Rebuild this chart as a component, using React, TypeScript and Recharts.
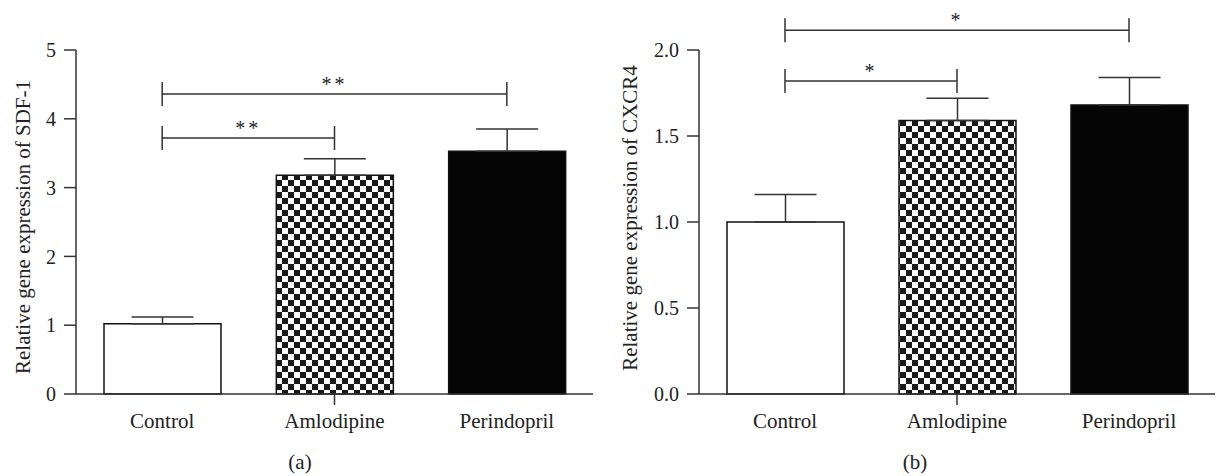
import React from 'react';
import { BarChart, Bar, XAxis, YAxis, Cell, ErrorBar, ReferenceLine } from 'recharts';

const groups = ['Control', 'Amlodipine', 'Perindopril'];

// (a) SDF-1
const sdfMean = [1.02, 3.18, 3.53];
const sdfSem = [0.1, 0.24, 0.32];
const sdfTicks = [0, 1, 2, 3, 4, 5];
const sdfSig = [
  { from: 'Control', to: 'Amlodipine', y: 3.72, mark: '**' },
  { from: 'Control', to: 'Perindopril', y: 4.36, mark: '**' },
];

// (b) CXCR4
const cxcrMean = [1.0, 1.59, 1.68];
const cxcrSem = [0.16, 0.13, 0.16];
const cxcrTicks = [0, 0.5, 1.0, 1.5, 2.0];
const cxcrSig = [
  { from: 'Control', to: 'Amlodipine', y: 1.82, mark: '*' },
  { from: 'Control', to: 'Perindopril', y: 2.115, mark: '*' },
];

const FILLS = ['#ffffff', 'url(#checker)', '#050505'];
const FONT = '"Liberation Serif", "DejaVu Serif", serif';
const INK = '#222';
const LINE = '#333';

const GroupTick = (p: any) => {
  const { x, y, payload, index } = p;
  return (
    <g>
      {index === 1 && <line x1={x} y1={y} x2={x} y2={y + 11} stroke={LINE} strokeWidth={1.5} />}
      <text x={x} y={y + 34} textAnchor="middle" fontSize={21} fontFamily={FONT} fill={INK}>
        {payload.value}
      </text>
    </g>
  );
};

const bracket = (mark: string) => (p: any) => {
  const { x1, y1, x2 } = p;
  return (
    <g>
      <path
        d={`M${x1},${y1 - 12}V${y1 + 12}M${x1},${y1}H${x2}M${x2},${y1 - 12}V${y1 + 12}`}
        stroke={LINE}
        strokeWidth={1.5}
        fill="none"
      />
      <text x={(x1 + x2) / 2} y={y1 - 3} textAnchor="middle" fontSize={20} fontFamily={FONT} fill={INK} letterSpacing={3}>
        {mark}
      </text>
    </g>
  );
};

interface PanelProps {
  left: number;
  width: number;
  yAxisWidth: number;
  rightMargin: number;
  means: number[];
  sems: number[];
  ticks: number[];
  domain: [number, number];
  sig: { from: string; to: string; y: number; mark: string }[];
  yLabel: string;
  labelX: number;
  labelY: number;
  fmt: (v: number) => string;
}

const Panel: React.FC<PanelProps> = ({ left, width, yAxisWidth, rightMargin, means, sems, ticks, domain, sig, yLabel, labelX, labelY, fmt }) => {
  const data = groups.map((g, i) => ({ name: g, value: means[i], err: [0, sems[i]] }));
  return (
    <div style={{ position: 'absolute', left, top: 0, width, height: 476 }}>
      <BarChart width={width} height={476} data={data} margin={{ top: 50, right: rightMargin, bottom: 0, left: 0 }}>
        <XAxis
          dataKey="name"
          height={82}
          axisLine={{ stroke: LINE, strokeWidth: 1.5 }}
          tickLine={false}
          tickSize={0}
          tickMargin={0}
          tick={<GroupTick />}
          interval={0}
        />
        <YAxis
          width={yAxisWidth}
          domain={domain}
          ticks={ticks}
          interval={0}
          tickFormatter={fmt}
          tickSize={12}
          tickMargin={8}
          axisLine={{ stroke: LINE, strokeWidth: 1.5 }}
          tickLine={{ stroke: LINE, strokeWidth: 1.5 }}
          tick={{ fill: INK, fontSize: 20, fontFamily: FONT }}
          label={{
            content: () => (
              <text
                x={labelX}
                y={labelY}
                transform={`rotate(-90 ${labelX} ${labelY})`}
                textAnchor="middle"
                dominantBaseline="central"
                fontSize={21}
                fontFamily={FONT}
                fill={INK}
              >
                {yLabel}
              </text>
            ),
          }}
        />
        <Bar dataKey="value" barSize={117} stroke="#111" strokeWidth={1.5} isAnimationActive={false}>
          {data.map((d, i) => (
            <Cell key={d.name} fill={FILLS[i]} />
          ))}
          <ErrorBar dataKey="err" direction="y" width={31} stroke={LINE} strokeWidth={1.5} isAnimationActive={false} />
        </Bar>
        {sig.map((s) => (
          <ReferenceLine
            key={s.to + s.y}
            segment={[{ x: s.from, y: s.y }, { x: s.to, y: s.y }]}
            ifOverflow="visible"
            shape={bracket(s.mark)}
          />
        ))}
      </BarChart>
    </div>
  );
};

export default function App() {
  return (
    <div style={{ position: 'absolute', left: 0, top: 0, width: 1217, height: 476, background: '#fff', fontFamily: FONT }}>
      <svg width={0} height={0} style={{ position: 'absolute' }}>
        <defs>
          <pattern id="checker" patternUnits="userSpaceOnUse" width={12} height={12}>
            <rect x={0} y={0} width={12} height={12} fill="#fff" />
            <rect x={0} y={0} width={6} height={6} fill="#1a1a1a" />
            <rect x={6} y={6} width={6} height={6} fill="#1a1a1a" />
          </pattern>
        </defs>
      </svg>
      <Panel
        left={0}
        width={600}
        yAxisWidth={76}
        rightMargin={7}
        means={sdfMean}
        sems={sdfSem}
        ticks={sdfTicks}
        domain={[0, 5]}
        sig={sdfSig}
        yLabel="Relative gene expression of SDF-1"
        labelX={23}
        labelY={227}
        fmt={(v) => String(v)}
      />
      <Panel
        left={600}
        width={617}
        yAxisWidth={99}
        rightMargin={2}
        means={cxcrMean}
        sems={cxcrSem}
        ticks={cxcrTicks}
        domain={[0, 2]}
        sig={cxcrSig}
        yLabel="Relative gene expression of CXCR4"
        labelX={30}
        labelY={218}
        fmt={(v) => v.toFixed(1)}
      />
      <div style={{ position: 'absolute', left: 0, width: 600, top: 452, textAlign: 'center', fontSize: 21, lineHeight: '20px', color: INK }}>
        (a)
      </div>
      <div style={{ position: 'absolute', left: 600, width: 630, top: 452, textAlign: 'center', fontSize: 21, lineHeight: '20px', color: INK }}>
        (b)
      </div>
    </div>
  );
}
